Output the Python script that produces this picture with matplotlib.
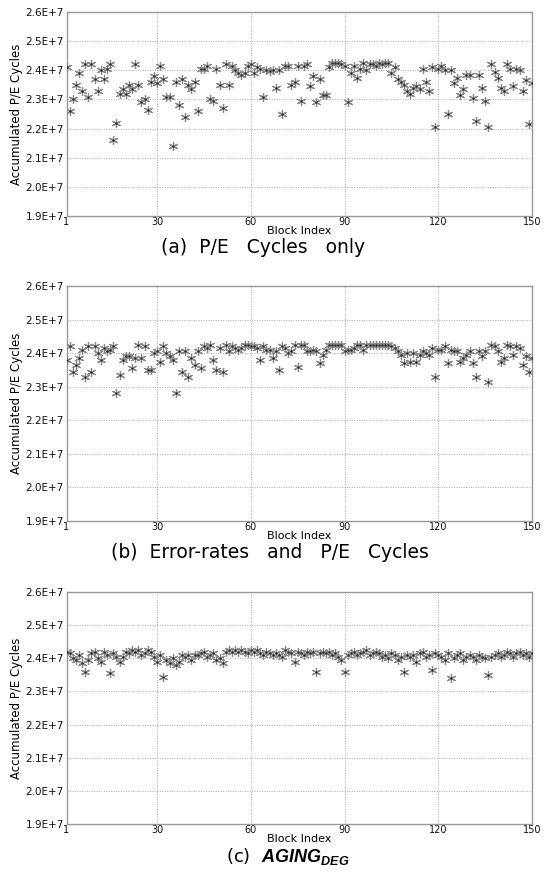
import matplotlib
matplotlib.use("Agg")
import matplotlib.pyplot as plt
from matplotlib.ticker import FuncFormatter

plt.rcParams["font.family"] = ["DejaVu Sans"]
plt.rcParams["mathtext.fontset"] = "custom"
plt.rcParams["mathtext.bf"] = "Liberation Sans:italic:bold"

# ── data (millions of P/E cycles per block, blocks 1..150) ───────────────────
blocks = list(range(1, 151))

pe_only = [
    24.1, 22.6, 23.0, 23.5, 23.9, 23.3, 24.2, 23.1, 24.2, 23.7,
    23.3, 24.0, 23.7, 24.05, 24.2, 21.6, 22.2, 23.2, 23.35, 23.2,
    23.5, 23.35, 24.2, 23.5, 22.9, 23.0, 22.65, 23.6, 23.8, 23.55,
    24.15, 23.7, 23.1, 23.1, 21.4, 23.6, 22.8, 23.7, 22.4, 23.5,
    23.35, 23.6, 22.6, 24.05, 24.05, 24.15, 23.0, 22.95, 24.05, 23.5,
    22.7, 24.2, 23.5, 24.15, 24.0, 23.9, 23.85, 23.9, 24.15, 24.2,
    23.9, 24.1, 24.05, 23.1, 24.0, 23.98, 24.0, 23.4, 24.0, 22.5,
    24.15, 24.15, 23.5, 23.6, 24.15, 22.95, 24.15, 24.2, 23.45, 23.8,
    22.9, 23.7, 23.15, 23.15, 24.1, 24.25, 24.25, 24.25, 24.2, 24.15,
    22.9, 23.9, 24.15, 23.75, 24.05, 24.25, 24.0, 24.2, 24.2, 24.15,
    24.25, 24.2, 24.25, 24.25, 23.9, 24.1, 23.7, 23.6, 23.5, 23.3,
    23.2, 23.4, 23.45, 23.35, 24.05, 23.6, 23.3, 24.1, 22.05, 24.05,
    24.15, 24.0, 22.5, 24.0, 23.55, 23.75, 23.15, 23.35, 23.85, 23.85,
    23.05, 22.25, 23.85, 23.4, 22.95, 22.05, 24.2, 23.95, 23.75, 23.4,
    23.3, 24.2, 24.05, 23.45, 24.05, 24.0, 23.3, 23.65, 22.15, 23.55,
]

err_and_pe = [
    23.8, 24.2, 23.45, 23.65, 23.85, 24.1, 23.3, 24.2, 23.45, 24.2,
    24.0, 23.8, 24.15, 24.05, 24.1, 24.2, 22.8, 23.35, 23.8, 23.9,
    23.9, 23.55, 23.85, 24.25, 23.85, 24.2, 23.5, 23.5, 24.0, 24.05,
    23.75, 24.2, 24.0, 23.9, 23.8, 22.8, 24.05, 23.45, 24.05, 23.3,
    23.85, 23.65, 24.05, 23.55, 24.2, 24.15, 24.25, 23.8, 23.5, 24.15,
    23.45, 24.25, 24.05, 24.2, 24.15, 24.1, 24.15, 24.25, 24.25, 24.2,
    24.2, 24.15, 23.8, 24.2, 24.1, 24.1, 23.85, 24.05, 23.5, 24.2,
    24.15, 24.0, 24.05, 24.25, 23.6, 24.25, 24.25, 24.05, 24.05, 24.1,
    24.05, 23.7, 23.95, 24.1, 24.25, 24.25, 24.25, 24.25, 24.25, 24.05,
    24.1, 24.1, 24.15, 24.25, 24.25, 24.1, 24.25, 24.25, 24.25, 24.25,
    24.25, 24.25, 24.25, 24.25, 24.2, 24.15, 24.05, 23.95, 23.7, 24.0,
    23.75, 24.0, 23.75, 23.95, 24.05, 24.0, 23.95, 24.15, 23.3, 24.1,
    24.1, 24.2, 23.7, 24.1, 24.05, 24.05, 23.75, 23.85, 23.95, 24.05,
    23.7, 23.3, 24.05, 23.9, 24.05, 23.15, 24.25, 24.2, 24.05, 23.75,
    23.85, 24.25, 24.2, 23.95, 24.2, 24.15, 23.65, 23.9, 23.45, 23.85,
]

aging_deg = [
    24.2, 24.15, 24.0, 23.95, 24.1, 23.85, 23.6, 23.95, 24.15, 24.2,
    24.0, 23.9, 24.2, 24.1, 23.55, 24.15, 24.05, 23.9, 24.05, 24.2,
    24.15, 24.25, 24.2, 24.25, 24.1, 24.15, 24.25, 24.2, 24.05, 23.9,
    24.1, 23.45, 23.95, 23.85, 24.0, 23.8, 23.9, 24.1, 24.05, 24.1,
    23.95, 24.1, 24.1, 24.15, 24.2, 24.05, 24.1, 24.15, 23.95, 24.0,
    23.85, 24.2, 24.25, 24.2, 24.25, 24.2, 24.25, 24.2, 24.15, 24.25,
    24.2, 24.25, 24.15, 24.1, 24.2, 24.15, 24.1, 24.15, 24.1, 24.05,
    24.25, 24.2, 24.15, 23.9, 24.2, 24.15, 24.1, 24.2, 24.15, 24.2,
    23.6, 24.15, 24.2, 24.15, 24.2, 24.1, 24.15, 24.05, 23.95, 23.6,
    24.1, 24.15, 24.2, 24.1, 24.15, 24.2, 24.25, 24.1, 24.15, 24.2,
    24.15, 24.05, 24.1, 24.0, 24.15, 24.1, 23.95, 24.05, 23.6, 24.1,
    24.05, 24.1, 23.9, 24.15, 24.2, 24.05, 24.1, 23.65, 24.15, 24.1,
    24.05, 23.95, 24.15, 23.4, 24.0, 24.1, 24.15, 23.95, 24.05, 24.1,
    24.05, 23.95, 24.1, 24.05, 24.0, 23.5, 24.05, 24.1, 24.15, 24.05,
    24.1, 24.2, 24.15, 24.05, 24.15, 24.2, 24.1, 24.15, 24.05, 24.15,
]

x_ticks = [1, 30, 60, 90, 120, 150]
y_ticks = [1.9e7, 2.0e7, 2.1e7, 2.2e7, 2.3e7, 2.4e7, 2.5e7, 2.6e7]

W, H = 545, 880
AX_L, AX_R = 66.5, 532


def _panel(fig, top_px, bot_px, values, cap_x, cap_y, caption, cap_size=13.5):
    ax = fig.add_axes([AX_L / W, 1 - bot_px / H, (AX_R - AX_L) / W, (bot_px - top_px) / H])
    y = [v * 1e6 for v in values]
    ax.plot(blocks, y, linestyle="none", marker=(6, 2, 0), markersize=6.5,
            markeredgewidth=0.9, markeredgecolor="#8a8a8a", zorder=3)
    ax.plot(blocks, y, linestyle="none", marker="o", markersize=1.6,
            color="#222222", markeredgewidth=0, zorder=4)

    ax.set_xlim(1, 150)
    ax.set_ylim(1.9e7, 2.6e7)
    ax.set_xticks(x_ticks)
    ax.set_yticks(y_ticks)
    ax.yaxis.set_major_formatter(FuncFormatter(lambda v, p: f"{v / 1e7:.1f}E+7"))
    ax.tick_params(length=0, labelsize=7.5, colors="#111111")
    ax.tick_params(axis="x", pad=1, labelsize=7)
    ax.tick_params(axis="y", pad=2)
    ax.grid(True, linestyle=(0, (1, 1.5)), color="#aaaaaa", linewidth=0.7)
    for s in ax.spines.values():
        s.set_color("#999999")
        s.set_linewidth(1.0)
    ax.set_ylabel("Accumulated P/E Cycles", fontsize=8.5, labelpad=2)
    ax.set_xlabel("Block Index", fontsize=8, labelpad=-1)
    fig.text(cap_x / W, 1 - cap_y / H, caption, ha="center", va="center",
             fontsize=cap_size)
    return ax


fig = plt.figure(figsize=(W / 100, H / 100), dpi=100)

_panel(fig, 12, 216, pe_only, 263, 247, "(a)  P/E   Cycles   only")
_panel(fig, 286, 521, err_and_pe, 270, 553, "(b)  Error-rates   and   P/E   Cycles")
_panel(fig, 592, 824, aging_deg, 288, 856, r"(c)  $\mathbf{AGING}_{\mathbf{DEG}}$", cap_size=13)

fig.savefig("out.png", dpi=100)
